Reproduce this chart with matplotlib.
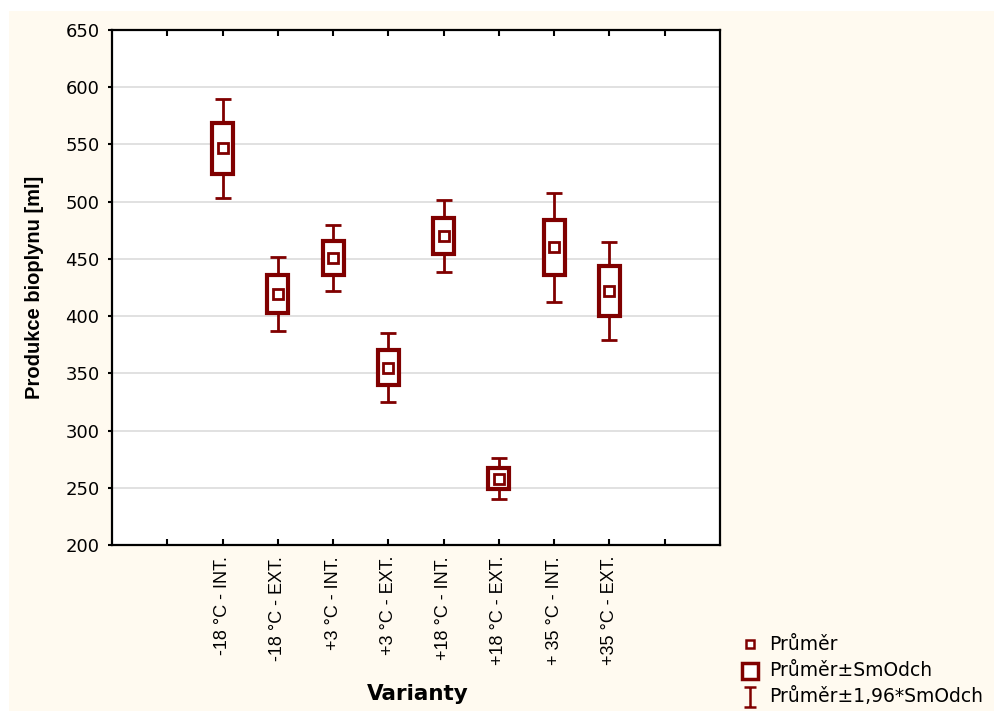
import numpy as np
import matplotlib
matplotlib.use("Agg")
import matplotlib.pyplot as plt
from matplotlib.lines import Line2D
from matplotlib.path import Path
from matplotlib.patches import Rectangle

plt.rcParams['font.family'] = ['DejaVu Sans']

# data
varianty = ["-18 °C - INT.", "-18 °C - EXT.", "+3 °C - INT.", "+3 °C - EXT.",
            "+18 °C - INT.", "+18 °C - EXT.", "+ 35 °C - INT.", "+35 °C - EXT."]
prumer = [546.5, 419, 451, 355, 470, 258, 460, 422]
sm_odch = [22, 16.5, 14.8, 15.3, 16, 9.2, 24.3, 22]
legenda = ["Průměr", "Průměr±SmOdch", "Průměr±1,96*SmOdch"]

col = "#800000"
cream = "#fffaf0"

fig = plt.figure(figsize=(9.94, 7.11), dpi=100)
fig.patches.append(Rectangle((9/994, 0), 1, 1 - 11/711, transform=fig.transFigure,
                             facecolor=cream, edgecolor='none', zorder=-10))
ax = fig.add_axes([112/994, 1 - 545/711, (720 - 112)/994, (545 - 30)/711])
ax.set_facecolor("white")

x = np.arange(2, 2 + len(varianty))
m = np.array(prumer)
s = np.array(sm_odch)

# whiskers: mean +- 1.96*SD
ax.errorbar(x, m, yerr=1.96 * s, fmt='none', ecolor=col, elinewidth=2,
            capsize=6, capthick=2, zorder=3)
# boxes: mean +- SD
ax.bar(x, 2 * s, bottom=m - s, width=0.38, facecolor="white",
       edgecolor=col, linewidth=3, zorder=4)
# means
ax.plot(x, m, ls='none', marker='s', ms=7, mfc='white', mec=col, mew=2, zorder=5)

ax.set_xlim(0, 11)
ax.set_ylim(200, 650)
ax.set_yticks(np.arange(200, 651, 50))
ax.set_xticks(np.arange(1, 11))
ax.set_xticklabels([""] + varianty + [""], rotation=90, fontsize=13,
                   family='Liberation Sans')
ax.tick_params(axis='x', direction='in', top=True, length=4, width=1.5, pad=8)
ax.tick_params(axis='y', direction='out', length=3, width=1.5, labelsize=13, pad=6)
ax.yaxis.grid(True, color="#dcdcdc", lw=1.2)
ax.set_axisbelow(True)
for sp in ax.spines.values():
    sp.set_linewidth(1.6)

ax.set_ylabel("Produkce bioplynu [ml]", fontsize=14.5, fontweight='bold',
              family='Liberation Sans', labelpad=15)
fig.text(418/994, 1 - 694/711, "Varianty", fontsize=15.5, fontweight='bold',
         ha='center', va='center')

# legend, drawn by hand
ibar = Path([(-0.6, -1), (0.6, -1), (0, -1), (0, 1), (-0.6, 1), (0.6, 1)],
            [Path.MOVETO, Path.LINETO, Path.MOVETO, Path.LINETO, Path.MOVETO, Path.LINETO])
znacky = [dict(marker='s', ms=5.5, mfc='white', mec=col, mew=1.8),
          dict(marker='s', ms=12, mfc='white', mec=col, mew=2.5),
          dict(marker=ibar, ms=15, mec=col, mew=1.8)]
for i, (txt, zn) in enumerate(zip(legenda, znacky)):
    yy = 1 - (644 + 26.5 * i) / 711
    fig.add_artist(Line2D([750/994], [yy], transform=fig.transFigure, ls='none', **zn))
    fig.text(769/994, yy, txt, fontsize=13.5, va='center', ha='left')

fig.savefig("out.png", dpi=100, facecolor="white")
